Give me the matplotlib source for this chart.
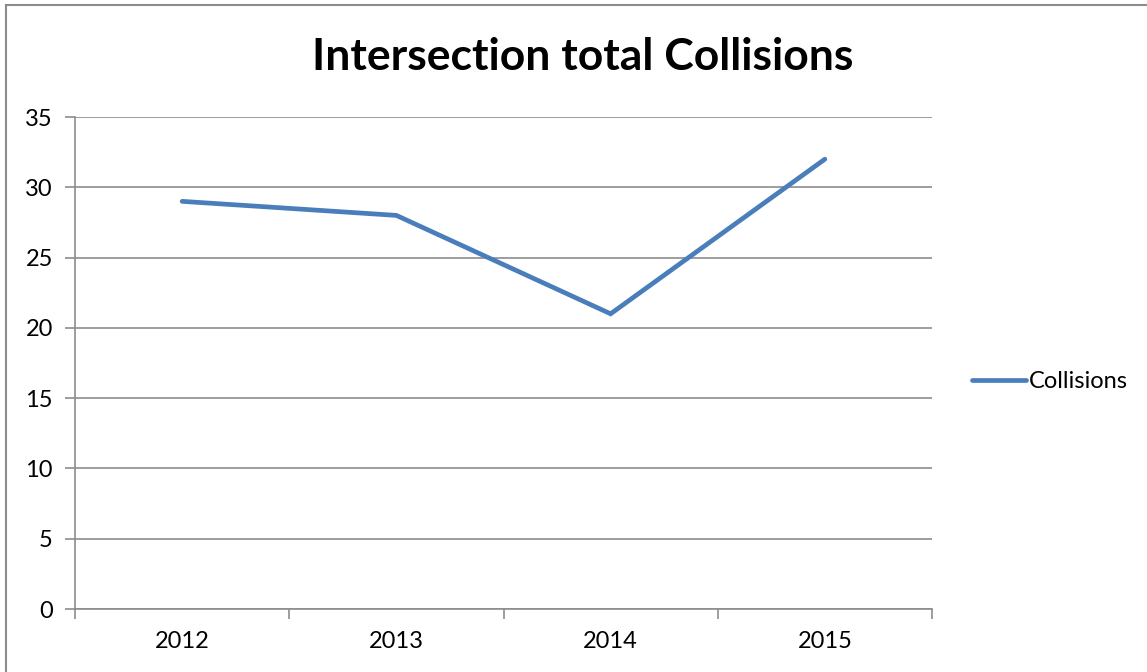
import matplotlib.pyplot as plt
from matplotlib.patches import Rectangle

years = ["2012", "2013", "2014", "2015"]
collisions = [29, 28, 21, 32]

plt.rcParams['font.family'] = ['Lato', 'DejaVu Sans']

fig = plt.figure(figsize=(11.47, 6.72), dpi=100)
ax = fig.add_axes([75 / 1147, 1 - 609 / 672, (932 - 75) / 1147, (609 - 117) / 672])

x = list(range(len(years)))
ax.plot(x, collisions, color='#4A7EBB', lw=3.4, solid_capstyle='round',
        solid_joinstyle='miter', label='Collisions')

ax.set_xlim(-0.5, len(years) - 0.5)
ax.set_ylim(0, 35)
ax.set_yticks(range(0, 36, 5))
ax.yaxis.grid(True, color='#8c8c8c', lw=1.2)
ax.set_axisbelow(True)

ax.set_xticks(x)
ax.set_xticklabels(years)
ax.set_xticks([i - 0.5 for i in range(len(years) + 1)], minor=True)
ax.tick_params(axis='x', which='major', length=0, pad=16, labelsize=17)
ax.tick_params(axis='x', which='minor', length=7, width=1.2, color='#8c8c8c')
ax.tick_params(axis='y', length=7, width=1.2, color='#8c8c8c', labelsize=17, pad=9)

for s in ('top', 'right'):
    ax.spines[s].set_visible(False)
for s in ('left', 'bottom'):
    ax.spines[s].set_color('#8c8c8c')
    ax.spines[s].set_linewidth(1.2)

fig.text(583 / 1147, 1 - 57 / 672, 'Intersection total Collisions', ha='center',
         va='center', fontsize=32, fontweight='bold')

leg = fig.legend(loc='center left', bbox_to_anchor=(972 / 1147, 1 - 382 / 672),
                 frameon=False, fontsize=17, handlelength=2.3, handletextpad=0.1,
                 borderpad=0, borderaxespad=0)

fig.patches.append(Rectangle((6 / 1147, -0.1), 1.2, 1 - 5 / 672 + 0.1,
                             transform=fig.transFigure, fill=False,
                             edgecolor='#8c8c8c', lw=1.5))

fig.savefig('out.png', dpi=100)
